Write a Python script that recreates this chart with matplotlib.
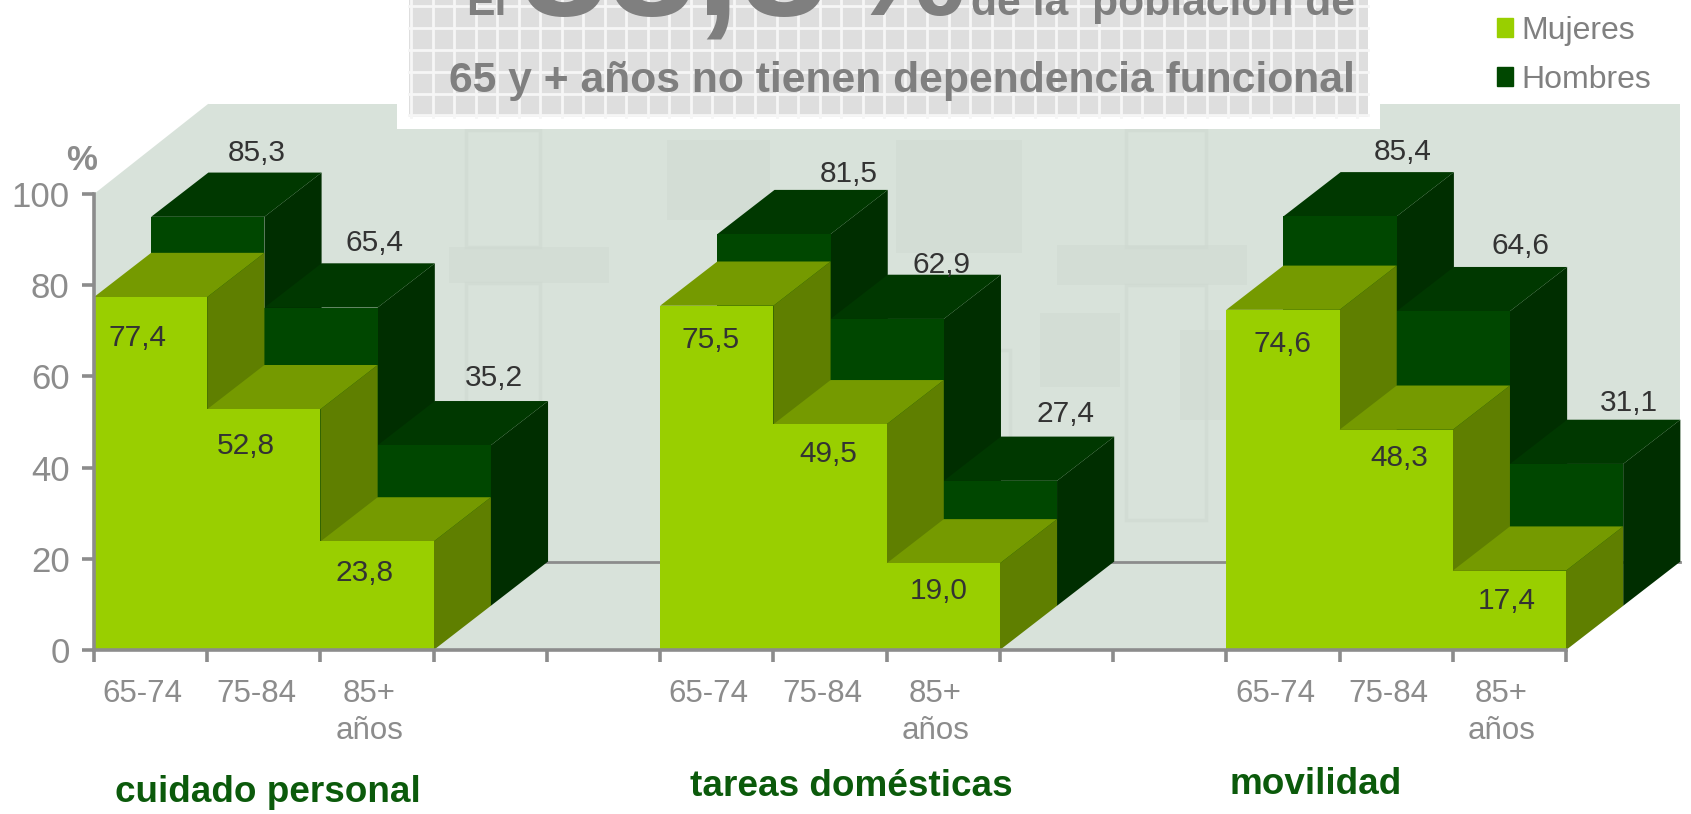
import matplotlib
matplotlib.use("Agg")
import matplotlib.pyplot as plt
from matplotlib.patches import Patch, Rectangle

groups = ["cuidado personal", "tareas domésticas", "movilidad"]
ages = ["65-74", "75-84", "85+\naños"]
mujeres = [77.4, 52.8, 23.8, 75.5, 49.5, 19.0, 74.6, 48.3, 17.4]
hombres = [85.3, 65.4, 35.2, 81.5, 62.9, 27.4, 85.4, 64.6, 31.1]
yticks = [0, 20, 40, 60, 80, 100]

W, H = 1691, 814
gris = "#8c8c8c"
plt.rcParams["font.family"] = ["Liberation Sans", "DejaVu Sans"]

fig = plt.figure(figsize=(W / 100, H / 100), dpi=100, facecolor="white")
# plot rectangle in pixels
x0, x1, y0, y100 = 94, 1566, 650, 194
ax = fig.add_axes([x0 / W, 1 - y0 / H, (x1 - x0) / W, (y0 - y100) / H])
ax.set_xlim(0, 13)
ax.set_ylim(0, 100)
ax.patch.set_visible(False)

# depth of the 3d look, in axis units
dx, dy = 0.505, 9.7


def poly(xs, ys, color, z=1):
    ax.fill(xs, ys, color=color, lw=0, clip_on=False, zorder=z)


# walls
pared = "#d8e2da"
techo = 100 + 2 * dy + 0.4
poly([0, 2 * dx, 2 * dx, 0], [0, 2 * dy, techo, 100], pared)
poly([2 * dx, 13 + 2 * dx, 13 + 2 * dx, 2 * dx], [2 * dy, 2 * dy, techo, techo], pared)
poly([0, 13, 13 + 2 * dx, 2 * dx], [0, 0, 2 * dy, 2 * dy], pared)

# faint emblem on the wall, pixel boxes
marca = "#cfd9d1"
for xa, ya, xb, yb in [(449, 247, 609, 283), (1057, 245, 1247, 285), (667, 140, 770, 220), (896, 140, 1022, 253),
                       (1040, 313, 1120, 387), (1180, 330, 1250, 420)]:
    ax.add_patch(Rectangle((xa / W, 1 - yb / H), (xb - xa) / W, (yb - ya) / H, transform=fig.transFigure,
                           fc=marca, ec="none", zorder=1.1, alpha=0.45, clip_on=False))
for xa, ya, xb, yb in [(466, 130, 540, 247), (1126, 130, 1206, 247), (880, 350, 1010, 560), (466, 283, 540, 520),
                       (1126, 285, 1206, 520)]:
    ax.add_patch(Rectangle((xa / W, 1 - yb / H), (xb - xa) / W, (yb - ya) / H, transform=fig.transFigure,
                           fill=False, ec=marca, lw=2.5, zorder=1.1, alpha=0.6, clip_on=False))

ax.plot([2 * dx, 13 + 2 * dx], [2 * dy, 2 * dy], color=gris, lw=2, clip_on=False, zorder=1.2)


def barra(x, v, off, front, top, side, z):
    ox, oy = off * dx, off * dy
    poly([x + 1 + ox, x + 1 + ox + dx, x + 1 + ox + dx, x + 1 + ox],
         [oy, oy + dy, v + oy + dy, v + oy], side, z)
    poly([x + ox, x + 1 + ox, x + 1 + ox + dx, x + ox + dx],
         [v + oy, v + oy, v + oy + dy, v + oy + dy], top, z)
    poly([x + ox, x + 1 + ox, x + 1 + ox, x + ox], [oy, oy, v + oy, v + oy], front, z)


posiciones = [0, 1, 2, 5, 6, 7, 10, 11, 12]
z = 2
for x, v in zip(posiciones, hombres):
    barra(x, v, 1, "#004700", "#003800", "#002e00", z)
    z += 1
for x, v in zip(posiciones, mujeres):
    barra(x, v, 0, "#99cf00", "#759a00", "#5f7f00", z)
    z += 1

# value labels, shifted by hand in pixels as in the original
h_off = [(-8, 20), (-4, 20), (2, 23), (18, 16), (-3, 10), (8, 23), (5, 20), (10, 21), (5, 17)]
m_off = [(-13, -41), (-18, -37), (-13, -32), (-6, -34), (-2, -30), (-5, -28), (0, -34), (3, -28), (-3, -30)]
for x, v, o in zip(posiciones, hombres, h_off):
    ax.annotate(f"{v:.1f}".replace(".", ","), (x + 0.5 + 2 * dx, v + 2 * dy), xytext=o,
                textcoords="offset pixels", ha="center", va="center", fontsize=21.5, color="#333333",
                annotation_clip=False, zorder=60)
for x, v, o in zip(posiciones, mujeres, m_off):
    ax.annotate(f"{v:.1f}".replace(".", ","), (x + 0.5, v), xytext=o,
                textcoords="offset pixels", ha="center", va="center", fontsize=21.5, color="#333333",
                annotation_clip=False, zorder=60)

# axes
for s in ["top", "right"]:
    ax.spines[s].set_visible(False)
for s in ["left", "bottom"]:
    ax.spines[s].set_color(gris)
    ax.spines[s].set_linewidth(2.6)
    ax.spines[s].set_zorder(55)
ax.set_yticks(yticks)
ax.set_xticks(range(0, 14))
ax.set_xticklabels([])
ax.tick_params(axis="both", which="major", length=8.5, width=2.6, color=gris, labelcolor=gris, labelsize=25, pad=9)
ax.set_xticks([p + 0.43 for p in posiciones], minor=True)
ax.set_xticklabels(ages * 3, minor=True, fontsize=22.5, color=gris, linespacing=1.3, va="top")
ax.tick_params(axis="x", which="minor", length=0, pad=21)

fig.text(82 / W, 1 - 160 / H, "%", fontsize=25, fontweight="bold", color=gris, ha="center", va="center")

# group names
nombres_x = [268, 851, 1316]
nombres_y = [792, 787, 784]
for n, xp, yp in zip(groups, nombres_x, nombres_y):
    fig.text(xp / W, 1 - yp / H, n, fontsize=26.6, fontweight="bold", color="#0b5a0b", ha="center", va="center")

# title box, cut at the top of the page
fig.add_artist(Rectangle((397 / W, 1 - 129 / H), 983 / W, 129 / H, transform=fig.transFigure,
                         fc="white", ec="none", zorder=70))
fig.add_artist(Rectangle((409 / W, 1 - 117 / H), 959 / W, 117 / H, transform=fig.transFigure,
                         fc="#dedede", ec="none", zorder=71))
for i in range(45):
    xg = 411 + i * 21.5
    fig.add_artist(plt.Line2D([xg / W, xg / W], [1 - 117 / H, 1], color="#f6f6f6", lw=2, zorder=72))
for yg in [6, 28, 50, 72, 94, 115]:
    fig.add_artist(plt.Line2D([409 / W, 1368 / W], [1 - yg / H, 1 - yg / H], color="#f6f6f6", lw=2, zorder=72))

titulo = "#7f7f7f"
fig.text(1355 / W, 1 - 92 / H, "65 y + años no tienen dependencia funcional", fontsize=30.7, fontweight="bold",
         color=titulo, ha="right", va="baseline", zorder=73)
fig.text(466 / W, 1 - 15 / H, "El", fontsize=30.7, fontweight="bold", color=titulo, va="baseline", zorder=73)
fig.text(1355 / W, 1 - 15 / H, "de la  población de", fontsize=30.7, fontweight="bold", color=titulo,
         ha="right", va="baseline", zorder=73)
fig.text(520 / W, 1 - 15 / H, "88,8", fontsize=114, fontweight="bold", color=titulo, va="baseline", zorder=73)
fig.text(848 / W, 1 - 15 / H, "%", fontsize=96, fontweight="bold", color=titulo, va="baseline", zorder=73)

handles = [Patch(color="#99cf00", label="Mujeres"), Patch(color="#004700", label="Hombres")]
fig.legend(handles=handles, loc="upper left", bbox_to_anchor=(1487 / W, 1 - 6 / H), frameon=False, fontsize=23,
           labelcolor="#808080", handlelength=0.52, handleheight=0.52, handletextpad=0.26, labelspacing=0.6,
           borderpad=0.3, borderaxespad=0)

fig.savefig("out.png", dpi=100)
